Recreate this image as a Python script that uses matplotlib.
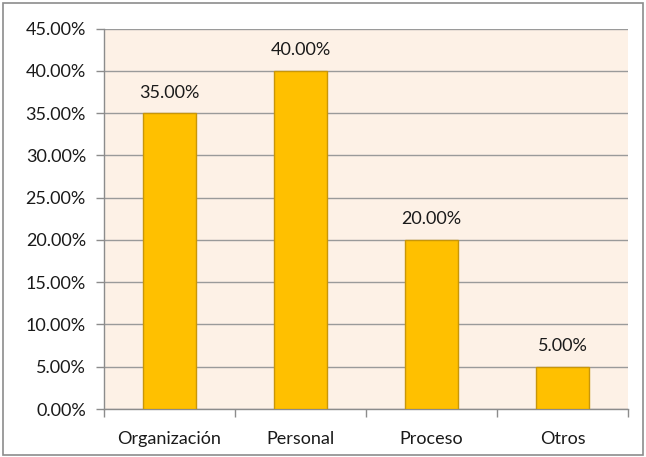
import matplotlib
matplotlib.use("Agg")
import matplotlib.pyplot as plt
from matplotlib.ticker import FuncFormatter, MultipleLocator, FixedLocator
from matplotlib.patches import Rectangle

categories = ["Organización", "Personal", "Proceso", "Otros"]
values = [35.0, 40.0, 20.0, 5.0]

plt.rcParams['font.family'] = ['Lato', 'DejaVu Sans']

W, H = 646, 457
fig = plt.figure(figsize=(W / 100, H / 100), dpi=100)
fig.patch.set_facecolor('white')
fig.add_artist(Rectangle((3 / W, 2 / H), (W - 6) / W, (H - 5) / H, transform=fig.transFigure,
                         fill=False, edgecolor='#8c8c8c', linewidth=1.2))

ax = fig.add_axes([104 / W, (H - 409) / H, (628 - 104) / W, (409 - 28.5) / H])
ax.set_facecolor('#FDF1E6')
x = list(range(len(categories)))
ax.bar(x, values, width=0.40, color='#FFC000', edgecolor='#C8960A', linewidth=1.0, zorder=3)
ax.set_xlim(-0.5, len(categories) - 0.5)
ax.set_ylim(0, 45)
ax.yaxis.set_major_locator(MultipleLocator(5))
ax.yaxis.set_major_formatter(FuncFormatter(lambda v, p: f"{v:.2f}%"))
ax.grid(axis='y', color='#9a9a9a', linewidth=1.0, zorder=1)
ax.set_xticks(x)
ax.set_xticklabels(categories)
ax.xaxis.set_minor_locator(FixedLocator([i - 0.5 for i in range(len(categories) + 1)]))
FS = 13
ax.tick_params(axis='x', which='major', length=0, pad=16, labelsize=FS, labelcolor='#1a1a1a')
ax.tick_params(axis='x', which='minor', length=6, color='#8c8c8c', width=1.0)
ax.tick_params(axis='y', length=6, color='#8c8c8c', width=1.0, labelsize=FS, pad=7, labelcolor='#1a1a1a')
for s in ['top', 'right']:
    ax.spines[s].set_visible(False)
for s in ['left', 'bottom']:
    ax.spines[s].set_color('#8c8c8c')
    ax.spines[s].set_linewidth(1.0)

for xi, v in zip(x, values):
    ax.annotate(f"{v:.2f}%", (xi, v), xytext=(0, 9), textcoords='offset points',
                ha='center', va='bottom', fontsize=FS, color='#1a1a1a')

fig.savefig("out.png", dpi=100)
